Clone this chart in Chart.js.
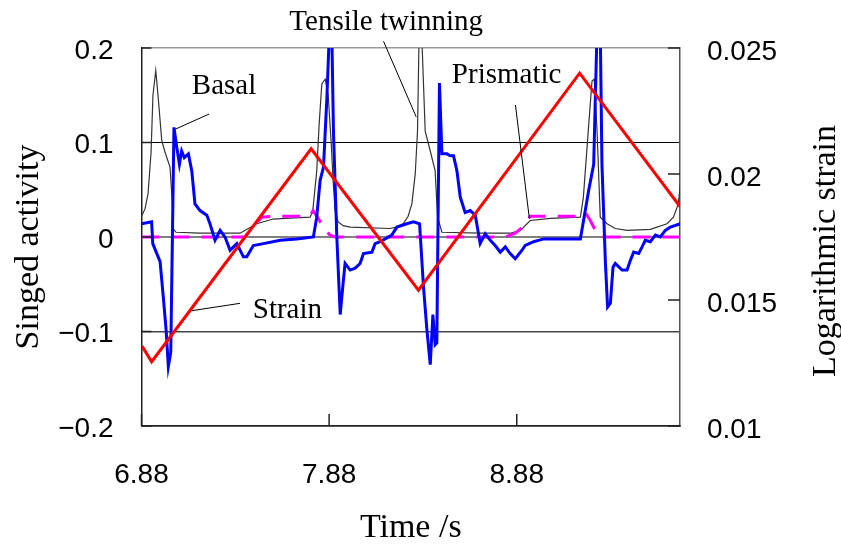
<!DOCTYPE html>
<html>
<head>
<meta charset="utf-8">
<script src="https://cdn.jsdelivr.net/npm/chart.js@4.4.1/dist/chart.umd.min.js"></script>
<style>
  html, body { margin: 0; padding: 0; background: #fff; }
  #wrap { width: 841px; height: 545px; }
</style>
</head>
<body>
<div id="wrap"><canvas id="c" width="841" height="545"></canvas></div>
<script>
// Tick positions on the time axis (s)
const timeTicks = [6.88, 7.88, 8.88];

// Tensile twinning activity (thin black)
const twinTime = [6.883,6.899,6.915,6.931,6.941,6.956,6.968,6.988,7.005,7.032,
  7.043,7.051,7.064,7.192,7.405,7.494,7.581,7.672,7.779,7.793,
  7.814,7.827,7.841,7.859,7.875,7.891,7.901,7.912,7.928,7.955,
  7.992,8.205,8.248,8.275,8.301,8.321,8.339,8.351,8.360,8.368,
  8.376,8.392,8.419,8.445,8.458,8.481,8.685,8.845,8.899,8.952,
  9.059,9.219,9.235,9.261,9.281,9.293,9.308,9.325,9.361,9.405,
  9.468,9.592,9.681,9.715,9.741,9.752];
const twinActivity = [0.023,0.030,0.046,0.090,0.150,0.176,0.150,0.102,0.090,0.074,
  0.040,0.008,0.005,0.004,0.004,0.014,0.019,0.020,0.021,0.028,
  0.070,0.120,0.162,0.167,0.150,0.100,0.060,0.028,0.016,0.012,
  0.0105,0.009,0.011,0.014,0.022,0.035,0.067,0.112,0.220,0.240,
  0.200,0.112,0.091,0.070,0.021,0.005,0.004,0.004,0.007,0.0175,
  0.0197,0.021,0.042,0.112,0.165,0.167,0.112,0.021,0.014,0.009,
  0.007,0.008,0.014,0.021,0.035,0.056];

// Basal slip activity (blue)
const basalTime = [6.881,6.934,6.940,6.979,6.996,7.011,7.023,7.036,7.053,7.068,
  7.082,7.094,7.108,7.130,7.148,7.165,7.192,7.228,7.245,7.272,
  7.299,7.325,7.352,7.388,7.423,7.441,7.476,7.530,7.619,7.708,
  7.796,7.814,7.832,7.850,7.868,7.882,7.888,7.894,7.903,7.921,
  7.939,7.956,7.965,7.992,8.019,8.045,8.063,8.108,8.125,8.152,
  8.179,8.214,8.241,8.294,8.330,8.362,8.383,8.401,8.419,8.433,
  8.445,8.454,8.468,8.481,8.508,8.525,8.543,8.561,8.579,8.605,
  8.632,8.659,8.685,8.712,8.739,8.765,8.792,8.819,8.845,8.872,
  8.908,8.925,8.970,9.023,9.219,9.236,9.263,9.290,9.308,9.316,
  9.325,9.334,9.352,9.364,9.379,9.393,9.405,9.441,9.468,9.485,
  9.503,9.530,9.548,9.565,9.592,9.619,9.645,9.672,9.699,9.752];
const basalActivity = [0.014,0.016,-0.007,-0.026,-0.063,-0.098,-0.137,-0.122,0.116,0.095,
  0.077,0.091,0.084,0.088,0.070,0.035,0.028,0.023,0.014,-0.0035,
  0.007,0,-0.014,-0.007,-0.021,-0.021,-0.009,-0.007,-0.0035,-0.002,
  0,0.021,0.060,0.074,0.147,0.220,0.260,0.220,0.112,0,
  -0.082,-0.046,-0.028,-0.035,-0.033,-0.028,-0.0175,-0.016,-0.007,-0.005,
  -0.002,0.002,0.0105,0.014,0.016,0.014,-0.053,-0.098,-0.135,-0.082,
  -0.114,-0.112,0.163,0.088,0.088,0.086,0.086,0.070,0.042,0.026,
  0.028,0.023,-0.007,0.0035,-0.0035,-0.009,-0.016,-0.0105,-0.0175,-0.023,
  -0.014,-0.009,-0.005,-0.002,-0.002,0.0175,0.049,0.077,0.220,0.260,
  0.220,0.077,-0.025,-0.074,-0.070,-0.032,-0.028,-0.035,-0.035,-0.025,
  -0.016,-0.0175,-0.0105,-0.0035,-0.005,0.002,0,0.007,0.0105,0.014];

// Prismatic slip activity (magenta dashed)
const prismTime = [6.880,7.432,7.475,7.523,7.592,7.725,7.779,7.795,7.821,7.848,7.885,
  7.912,8.819,8.872,8.909,8.952,9.219,9.245,9.272,9.299,9.325,9.752];
const prismActivity = [0,0,0.012,0.021,0.022,0.022,0.023,0.028,0.020,0.0105,0.002,
  0,0,0.004,0.010,0.022,0.022,0.026,0.0175,0.007,0,0];

// Logarithmic strain (red, right axis)
const strainTime = [6.883,6.934,7.784,8.356,9.215,9.752];
const strainValue = [0.01317,0.01255,0.02100,0.01539,0.02400,0.01869];

const pairs = (xs, ys) => xs.map((t, i) => ({ x: t, y: ys[i] }));

const sansFont = "'Liberation Sans', Arial, sans-serif";
const serifFont = "'Liberation Serif', 'Times New Roman', serif";

// Callout labels with leader lines, in data units (time, activity)
const callouts = [
  { text: 'Basal', t: 7.148, v: 0.1513, line: [[7.241, 0.1302], [7.059, 0.114]] },
  { text: 'Tensile twinning', t: 7.668, v: 0.2194, line: [[8.170, 0.2071], [8.344, 0.1271]] },
  { text: 'Prismatic', t: 8.534, v: 0.163, line: [[8.873, 0.1397], [8.947, 0.0198]] },
  { text: 'Strain', t: 7.473, v: -0.086, line: [[7.405, -0.0702], [7.148, -0.078]] }
];

const decor = {
  id: 'decor',
  afterDraw(chart) {
    const { ctx, chartArea: a, scales: { x, y, y2 } } = chart;
    ctx.save();
    // inward tick marks
    ctx.strokeStyle = '#222';
    ctx.lineWidth = 1.5;
    ctx.beginPath();
    y2.ticks.forEach(tk => {
      const py = y2.getPixelForValue(tk.value);
      ctx.moveTo(a.right, py); ctx.lineTo(a.right - 12, py);
    });
    x.ticks.forEach(tk => {
      const px = x.getPixelForValue(tk.value);
      ctx.moveTo(px, a.bottom); ctx.lineTo(px, a.bottom - 12);
    });
    y.ticks.forEach(tk => {
      const py = y.getPixelForValue(tk.value);
      ctx.moveTo(a.left, py); ctx.lineTo(a.left + 10, py);
    });
    ctx.stroke();

    // callouts
    ctx.fillStyle = '#000';
    ctx.strokeStyle = '#000';
    ctx.lineWidth = 1;
    ctx.font = '29px ' + serifFont;
    ctx.textAlign = 'left';
    ctx.textBaseline = 'alphabetic';
    callouts.forEach(c => {
      ctx.fillText(c.text, x.getPixelForValue(c.t), y.getPixelForValue(c.v));
      ctx.beginPath();
      ctx.moveTo(x.getPixelForValue(c.line[0][0]), y.getPixelForValue(c.line[0][1]));
      ctx.lineTo(x.getPixelForValue(c.line[1][0]), y.getPixelForValue(c.line[1][1]));
      ctx.stroke();
    });

    // vertical axis titles, both reading bottom to top
    ctx.font = '34px ' + serifFont;
    ctx.textAlign = 'center';
    ctx.save();
    ctx.translate(38, 247);
    ctx.rotate(-Math.PI / 2);
    ctx.fillText('Singed activity', 0, 0);
    ctx.restore();
    ctx.save();
    ctx.translate(835, 251);
    ctx.rotate(-Math.PI / 2);
    ctx.fillText('Logarithmic strain', 0, 0);
    ctx.restore();
    ctx.restore();
  }
};

const tickFont = { family: sansFont, size: 28, lineHeight: 1 };

new Chart(document.getElementById('c'), {
  type: 'line',
  data: {
    datasets: [
      { label: 'Strain', data: pairs(strainTime, strainValue), yAxisID: 'y2',
        borderColor: '#ff0000', borderWidth: 3, order: 0 },
      { label: 'Basal', data: pairs(basalTime, basalActivity), yAxisID: 'y',
        borderColor: '#0000ff', borderWidth: 3, order: 1 },
      { label: 'Prismatic', data: pairs(prismTime, prismActivity), yAxisID: 'y',
        borderColor: '#ff00ff', borderWidth: 3, borderDash: [18, 12], order: 2 },
      { label: 'Tensile twinning', data: pairs(twinTime, twinActivity), yAxisID: 'y',
        borderColor: '#333333', borderWidth: 1.2, order: 3 }
    ].map(d => Object.assign({ pointRadius: 0, tension: 0, fill: false, clip: 0 }, d))
  },
  options: {
    responsive: false,
    animation: false,
    events: [],
    layout: { padding: { top: 48, left: 0, right: 0, bottom: 0 } },
    plugins: { legend: { display: false }, tooltip: { enabled: false } },
    scales: {
      x: {
        type: 'linear', position: 'bottom', min: 6.88, max: 9.75,
        afterBuildTicks: s => { s.ticks = timeTicks.map(v => ({ value: v })); },
        afterFit: s => { s.height = 119; },
        grid: { display: false, drawTicks: false },
        border: { display: true, color: '#222', width: 1.5 },
        ticks: { padding: 35, font: tickFont, color: '#000', maxRotation: 0, autoSkip: false,
                 callback: v => v.toFixed(2) },
        title: { display: true, text: 'Time /s', color: '#000',
                 font: { family: serifFont, size: 34, lineHeight: 1 }, padding: { top: 0, bottom: 0 } }
      },
      y: {
        type: 'linear', position: 'left', min: -0.2, max: 0.2,
        afterFit: s => { s.width = 141.5; },
        grid: {
          drawTicks: false,
          color: c => {
            const v = c.tick.value;
            if (Math.abs(v) < 1e-9) return '#808080';
            if (v > 0.15) return '#999999';
            if (v < -0.15) return '#222222';
            return v > 0 ? '#000000' : '#444444';
          },
          lineWidth: c => {
            const v = c.tick.value;
            if (Math.abs(v) < 1e-9) return 2;
            if (v > 0.15) return 1.5;
            return v > 0 ? 1 : 1.5;
          }
        },
        border: { color: '#222', width: 1.5 },
        ticks: { stepSize: 0.1, padding: 28, labelOffset: 3, font: tickFont, color: '#000',
          callback: v => {
            const r = Math.round(v * 10) / 10;
            if (r === 0) return '0';
            return (r < 0 ? '\u2212' : '') + Math.abs(r);
          } }
      },
      y2: {
        type: 'linear', position: 'right', min: 0.01, max: 0.025,
        afterFit: s => { s.width = 161; },
        grid: { display: false, drawTicks: false },
        border: { color: '#555', width: 1.5 },
        ticks: { stepSize: 0.005, padding: 27, labelOffset: 4, font: tickFont, color: '#000',
          callback: v => String(+v.toFixed(3)) }
      }
    }
  },
  plugins: [decor]
});
</script>
</body>
</html>
